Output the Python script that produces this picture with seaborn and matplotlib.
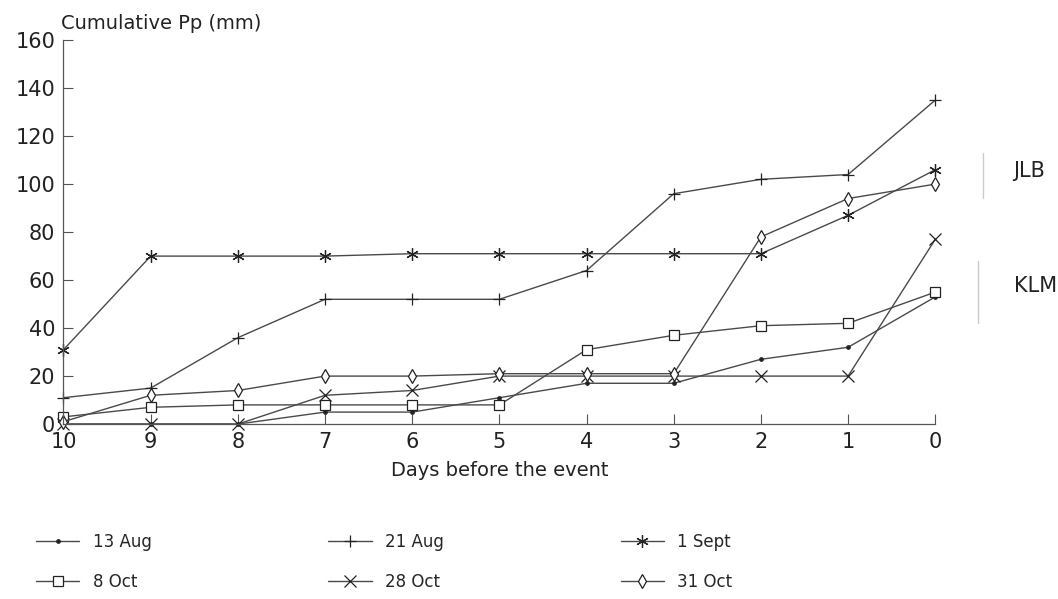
import matplotlib
matplotlib.use("Agg")
import matplotlib.pyplot as plt
import seaborn as sns

# days before the event (x axis runs 10 -> 0)
days = [10, 9, 8, 7, 6, 5, 4, 3, 2, 1, 0]

# cumulative precipitation (mm)
aug13 = [0, 0, 0, 5, 5, 11, 17, 17, 27, 32, 53]
aug21 = [11, 15, 36, 52, 52, 52, 64, 96, 102, 104, 135]
sep01 = [31, 70, 70, 70, 71, 71, 71, 71, 71, 87, 106]
oct08 = [3, 7, 8, 8, 8, 8, 31, 37, 41, 42, 55]
oct28 = [0, 0, 0, 12, 14, 20, 20, 20, 20, 20, 77]
oct31 = [1, 12, 14, 20, 20, 21, 21, 21, 78, 94, 100]

labels = ["13 Aug", "21 Aug", "1 Sept", "8 Oct", "28 Oct", "31 Oct"]
series = [aug13, aug21, sep01, oct08, oct28, oct31]
markers = [".", "+", (6, 2, 0), "s", "x", "d"]
msizes = [5, 9, 9, 7, 8, 7]

sns.set_style("ticks")
plt.rcParams["font.family"] = ["DejaVu Sans"]

fig = plt.figure(figsize=(10.58, 5.99), dpi=100)
ax = fig.add_axes([0.06, 0.292, 0.824, 0.641])

col = "#4a4a4a"
for lab, vals, mk, ms in zip(labels, series, markers, msizes):
    face = "#222222" if mk == "." else "white"
    sns.lineplot(x=days, y=vals, ax=ax, color=col, lw=1.0, marker=mk,
                 markersize=ms, mec="#222222", mfc=face, mew=0.9,
                 label=lab, clip_on=False)

ax.set_xlim(10, 0)
ax.set_ylim(0, 160)
ax.set_xticks(days)
ax.set_yticks(range(0, 161, 20))
ax.tick_params(direction="in", length=7, width=0.8, colors="#555555",
               labelcolor="#222222", labelsize=15, pad=6)
for s in ["top", "right"]:
    ax.spines[s].set_visible(False)
for s in ["left", "bottom"]:
    ax.spines[s].set_color("#555555")
    ax.spines[s].set_linewidth(0.9)

ax.set_xlabel("Days before the event", fontsize=14, color="#222222", labelpad=6)
ax.set_ylabel("")
fig.text(0.058, 0.945, "Cumulative Pp (mm)", fontsize=14, color="#222222",
         ha="left", va="bottom")

# station labels on the right
fig.text(0.958, 0.715, "JLB", fontsize=15, color="#222222", ha="left", va="center")
fig.text(0.958, 0.523, "KLM", fontsize=15, color="#222222", ha="left", va="center")
fig.add_artist(plt.Line2D([0.929, 0.929], [0.67, 0.745], color="#cccccc", lw=1))
fig.add_artist(plt.Line2D([0.924, 0.924], [0.46, 0.565], color="#cccccc", lw=1))

# legend below, rows: Aug/Aug/Sept then Oct/Oct/Oct
h, l = ax.get_legend_handles_labels()
ax.get_legend().remove()
order = [0, 3, 1, 4, 2, 5]
fig.legend([h[i] for i in order], [l[i] for i in order], ncol=3,
           loc="lower left", bbox_to_anchor=(0.02, -0.012), frameon=False,
           fontsize=12, columnspacing=10.6, handlelength=2.6,
           labelspacing=1.35, handletextpad=0.8)

fig.savefig("out.png", dpi=100)
